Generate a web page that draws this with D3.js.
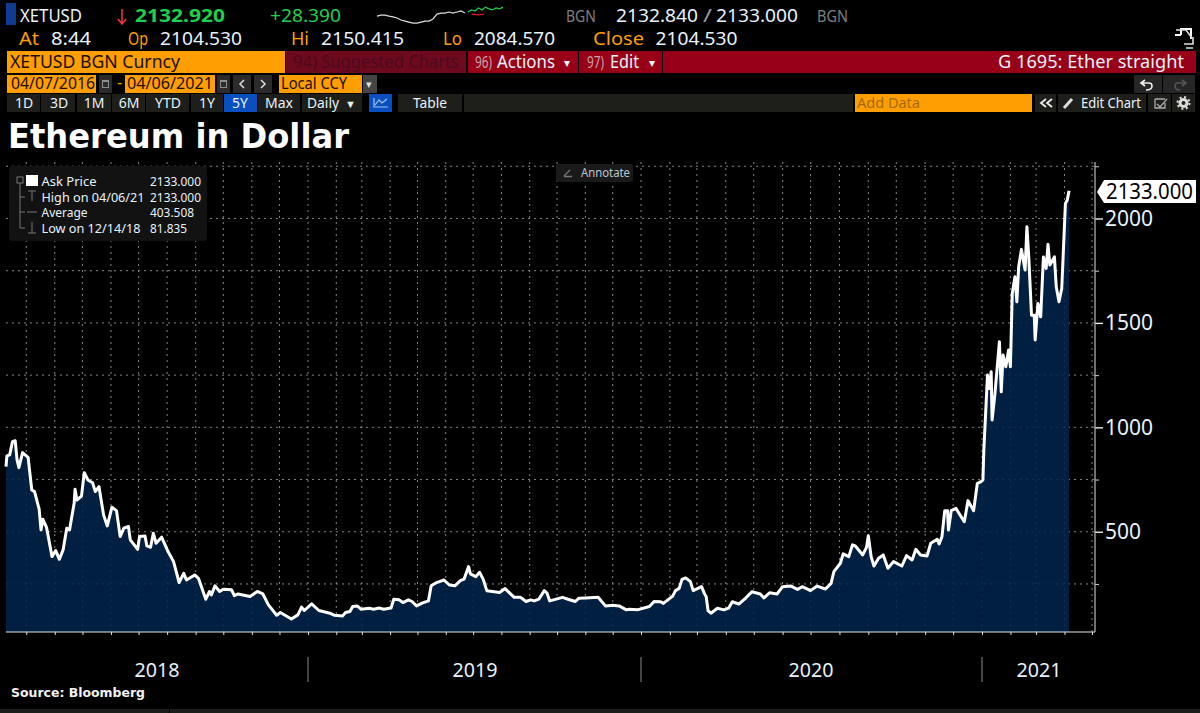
<!DOCTYPE html>
<html lang="en">
<head>
<meta charset="UTF-8">
<title>Ethereum in Dollar</title>
<script src="https://d3js.org/d3.v7.min.js"></script>
<style>
  html, body { margin: 0; background: #000; overflow: hidden; }
  text { font-family: "Noto Sans", sans-serif; }
</style>
</head>
<body>
<div id="chart"></div>
<script>
// values, month-day per year
const days2018 = [
  "02-07","02-08","02-11","02-14","02-17","02-19","02-21","02-25",
  "03-03","03-07","03-10","03-15","03-17","03-19","03-23","03-29",
  "04-02","04-06","04-10","04-14","04-17","04-22","04-23","04-25",
  "04-30","05-03","05-07","05-12","05-15","05-19","05-24","05-28",
  "06-02","06-07","06-11","06-15","06-20","06-22","06-30","07-02",
  "07-08","07-10","07-14","07-17","07-20","07-26","08-02","08-08",
  "08-14","08-19","08-22","08-31","09-04","09-12","09-16","09-18",
  "09-22","09-27","10-01","10-10","10-13","10-17","10-30","11-07",
  "11-13","11-19","11-28","12-02","12-14","12-21","12-25","12-28"];
const prices2018 = [
  812,863,868,931,936,844,807,879,
  856,700,692,608,509,560,521,381,
  410,368,413,517,509,636,703,652,
  671,783,748,735,692,716,580,528,
  617,601,477,517,525,461,416,477,
  480,432,426,493,445,474,405,357,
  257,301,269,293,277,177,214,198,
  241,214,225,222,194,202,190,214,
  202,150,100,113,82,102,139,123];
const days2019 = [
  "01-05","01-13","01-25","01-30","02-08","02-11","02-16","02-19",
  "02-24","02-28","03-09","03-14","03-20","03-25","04-02","04-05",
  "04-11","04-15","04-21","04-25","04-30","05-06","05-13","05-16",
  "05-22","05-25","05-30","06-05","06-11","06-17","06-21","06-26",
  "06-28","07-04","07-08","07-12","07-16","07-22","07-30","08-05",
  "08-15","08-22","08-28","09-02","09-06","09-11","09-17","09-20",
  "09-23","10-07","10-13","10-21","10-25","11-01","11-15","11-23",
  "12-01","12-08","12-16","12-19","12-28"];
const prices2019 = [
  155,123,110,100,97,113,118,142,
  145,129,134,129,135,129,135,177,
  174,161,174,166,145,158,169,241,
  257,261,269,245,241,266,273,333,
  298,285,306,273,218,214,209,228,
  186,186,166,174,169,177,218,206,
  169,186,177,166,182,183,186,145,
  148,145,126,129,126];
const days2020 = [
  "01-10","01-15","01-22","01-25","02-04","02-07","02-11","02-14",
  "02-18","02-23","02-26","03-06","03-09","03-11","03-13","03-16",
  "03-23","03-30","04-04","04-08","04-15","04-22","04-29","05-08",
  "05-12","05-18","05-26","06-01","06-10","06-17","06-22","07-01",
  "07-08","07-17","07-23","07-26","08-02","08-05","08-11","08-15",
  "08-18","08-26","08-30","09-01","09-04","09-07","09-12","09-17",
  "09-22","09-28","10-07","10-12","10-18","10-22","10-27","11-03",
  "11-07","11-14","11-16","11-19","11-22","11-25","11-26","11-29",
  "12-04","12-13","12-17","12-23","12-27","12-31"];
const prices2020 = [
  142,166,165,157,192,218,229,272,
  279,261,218,237,205,189,122,110,
  134,126,134,165,154,181,213,202,
  183,208,202,237,240,224,237,218,
  240,226,253,309,349,394,381,437,
  432,389,425,481,381,336,373,389,
  325,357,336,386,365,416,389,384,
  445,464,441,476,601,601,508,601,
  612,548,649,601,732,740];
const days2021 = [
  "01-02","01-03","01-07","01-09","01-11","01-12","01-15","01-17",
  "01-20","01-22","01-24","01-27","01-30","02-01","02-03","02-06",
  "02-08","02-10","02-13","02-17","02-19","02-21","02-24","02-27",
  "02-28","03-03","03-06","03-09","03-12","03-14","03-16","03-21",
  "03-23","03-26","03-29","04-02","04-04","04-06"];
const prices2021 = [
  748,891,1250,1186,1266,1035,1155,1258,
  1410,1170,1346,1290,1370,1290,1641,1721,
  1601,1769,1852,1753,1960,1817,1537,1537,
  1418,1593,1529,1816,1761,1877,1777,1816,
  1673,1601,1665,2072,2088,2133];

const majorTicks = [500, 1000, 1500, 2000];
const minorTicks = [250, 750, 1250, 1750, 2250];
const yearLabels = ["2018", "2019", "2020", "2021"];
const lastPrice = "2133.000";

// header sparkline, intraday prices
const sparkWhite = [2115,2119,2119,2115,2112,2108,2100,2096,2092,2088,2088,2092,
  2096,2096,2104,2123,2127,2127,2131,2127,2131,2135,2127];
const sparkGreen = [2131,2139,2135,2147,2139,2150,2143,2139,2147,2143,2150];
const sparkRed = [2123,2120,2123];

const legendRows = [
  ["Ask Price", "2133.000"],
  ["High on 04/06/21", "2133.000"],
  ["Average", "403.508"],
  ["Low on 12/14/18", "81.835"]];

const parse = d3.timeParse("%Y-%m-%d");
const withYear = (year, days, prices) =>
  days.map((d, i) => ({ date: parse(year + "-" + d), price: prices[i] }));
const series = [].concat(
  withYear(2018, days2018, prices2018),
  withYear(2019, days2019, prices2019),
  withYear(2020, days2020, prices2020),
  withYear(2021, days2021, prices2021));

const svg = d3.select("#chart").append("svg")
  .attr("width", 1200).attr("height", 713)
  .style("display", "block");

const ORANGE = "#ff9e00", RED = "#980018", DARKRED = "#6f0a1e", GREEN = "#1fd04a";
const TXT = "#e8f2fa", CELL = "#1e1e1b";

function label(x, y, str, size, color, width, opts) {
  const t = svg.append("text").attr("x", x).attr("y", y)
    .attr("font-size", size).attr("fill", color).text(str);
  if (width) t.attr("textLength", width).attr("lengthAdjust", "spacingAndGlyphs");
  if (opts && opts.bold) t.attr("font-weight", "bold");
  if (opts && opts.anchor) t.attr("text-anchor", opts.anchor);
  if (opts && opts.family) t.style("font-family", opts.family);
  return t;
}
function box(x0, y0, x1, y1, fill) {
  return svg.append("rect").attr("x", x0).attr("y", y0)
    .attr("width", x1 - x0).attr("height", y1 - y0).attr("fill", fill);
}

// --- chart ---
const x = d3.scaleTime()
  .domain([parse("2018-02-07"), parse("2019-01-01"), parse("2020-01-01"), parse("2021-01-01"), parse("2021-05-01")])
  .range([6, 308, 641, 982, 1092]);
const y = d3.scaleLinear().domain([20, 2280]).range([632, 160]);
const monthStarts = d3.timeMonth.range(parse("2018-03-01"), parse("2021-05-02"));

const gridV = svg.append("g");
gridV.selectAll("line").data(monthStarts).join("line")
  .attr("x1", d => x(d)).attr("x2", d => x(d))
  .attr("y1", 632).attr("y2", 162);
const gridH = svg.append("g");
gridH.selectAll("line").data(majorTicks.concat(minorTicks)).join("line")
  .attr("x1", 6).attr("x2", 1095)
  .attr("y1", d => y(d)).attr("y2", d => y(d));
svg.selectAll("g line").attr("stroke", "#858585").attr("stroke-width", 1).attr("stroke-dasharray", "2 4");

const area = d3.area().x(d => x(d.date)).y0(632).y1(d => y(d.price));
const line = d3.line().x(d => x(d.date)).y(d => y(d.price));
svg.append("path").datum(series).attr("d", area).attr("fill", "#00234a").attr("fill-opacity", 0.88);
svg.append("path").datum(series).attr("d", line).attr("fill", "none")
  .attr("stroke", "#fff").attr("stroke-width", 3).attr("stroke-linejoin", "round");

// axes
const xAxis = svg.append("g").attr("transform", "translate(0,632)")
  .call(d3.axisBottom(x).tickValues(monthStarts).tickSize(3).tickFormat("").tickSizeOuter(0));
xAxis.select(".domain").remove();
xAxis.selectAll("line").attr("stroke", "#ddd").attr("stroke-dasharray", null);
svg.append("line").attr("x1", 6).attr("x2", 1095).attr("y1", 632).attr("y2", 632)
  .attr("stroke", "#e6e6e6").attr("stroke-width", 1.2);

const yMinor = svg.append("g").attr("transform", "translate(1095,0)")
  .call(d3.axisRight(y).tickValues(minorTicks).tickSize(4).tickFormat(""));
yMinor.select(".domain").remove();
yMinor.selectAll("line").attr("stroke", "#ccc").attr("stroke-dasharray", null);
const yMajor = svg.append("g").attr("transform", "translate(1095,0)")
  .call(d3.axisRight(y).tickValues(majorTicks).tickSize(8).tickPadding(2).tickFormat(d3.format("d")));
yMajor.select(".domain").remove();
yMajor.selectAll("line").attr("stroke", "#eee").attr("stroke-dasharray", null).attr("stroke-width", 1.4);
yMajor.selectAll("text").attr("fill", TXT).attr("font-size", 21).attr("x", 10)
  .style("font-family", '"Noto Sans", sans-serif');
svg.append("line").attr("x1", 1095).attr("x2", 1095).attr("y1", 162).attr("y2", 632)
  .attr("stroke", "#bdbdbd").attr("stroke-width", 1.2);

// last price tag
svg.append("path").attr("fill", "#fff")
  .attr("d", "M1097,192 L1104,180 H1196 V203 H1104 Z");
label(1106, 199, lastPrice, 21, "#000", 87);

// years along the bottom
const yearCenters = [157, 475, 811, 1039];
yearLabels.forEach((yr, i) => label(yearCenters[i], 677, yr, 20, TXT, 45, { anchor: "middle" }));
[parse("2019-01-01"), parse("2020-01-01"), parse("2021-01-01")].forEach(d => {
  svg.append("line").attr("x1", x(d)).attr("x2", x(d)).attr("y1", 657).attr("y2", 682)
    .attr("stroke", "#8a8a8a");
});
label(11, 697, "Source: Bloomberg", 13, "#f2f2f2", 134, { bold: true, family: '"DejaVu Sans", sans-serif' });
box(0, 709, 1200, 713, "#1c1c1c");
box(169, 709, 170, 713, "#000");

// legend panel
box(9, 166, 207, 241, "#121212").attr("rx", 3);
box(26, 175, 38, 186, "#fff");
box(17, 177, 23, 183, "none").attr("stroke", "#777");
const treeLines = [[20, 183, 20, 228], [20, 197, 25, 197], [20, 212, 25, 212], [20, 228, 25, 228],
  [28, 191, 36, 191], [32, 191, 32, 201], [27, 212, 37, 212], [28, 233, 36, 233], [32, 222, 32, 233]];
treeLines.forEach(l => svg.append("line").attr("x1", l[0]).attr("y1", l[1]).attr("x2", l[2]).attr("y2", l[3])
  .attr("stroke", "#777"));
const legendY = [186, 202, 217, 233];
const legendW = [55, 103, 46, 99];
const legendValW = [51, 51, 44, 37];
legendRows.forEach((r, i) => {
  label(41.5, legendY[i], r[0], 12.5, TXT, legendW[i]);
  label(150, legendY[i], r[1], 12.5, TXT, legendValW[i]);
});

// annotate button
box(556, 164, 633, 182, "#1a1a1a").attr("rx", 2);
svg.append("path").attr("d", "M564,176 L570,170 M564,176.5 H572").attr("stroke", "#777").attr("stroke-width", 1.3);
label(581, 177, "Annotate", 12, "#b9c6d2", 49);

// --- header rows ---
box(6, 3, 16, 25, "#0f3c92");
label(20, 22, "XETUSD", 18, TXT, 62);
svg.append("path").attr("d", "M122,9 V23 M118,19 L122,24 L126,19").attr("fill", "none")
  .attr("stroke", "#f0303a").attr("stroke-width", 1.6);
label(135, 22, "2132.920", 18, GREEN, 90, { bold: true });
label(270, 22, "+28.390", 18, GREEN, 71);
label(566, 22, "BGN", 17, "#7f7f7f", 30);
label(616, 22, "2132.840", 18, TXT, 82);
label(703, 22, "/", 18, "#9a9a9a", 9);
label(716, 22, "2133.000", 18, TXT, 82);
label(817, 22, "BGN", 17, "#7f7f7f", 31);

const sparkY = d3.scaleLinear().domain([2084.57, 2150.415]).range([24, 7]);
const sparkLine = (data, x0, x1, color) => {
  const sx = d3.scaleLinear().domain([0, data.length - 1]).range([x0, x1]);
  svg.append("path").datum(data)
    .attr("d", d3.line().x((d, i) => sx(i)).y(d => sparkY(d)))
    .attr("fill", "none").attr("stroke", color).attr("stroke-width", 1.2);
};
sparkLine(sparkWhite, 377, 465, "#ddd");
sparkLine(sparkRed, 472, 484, "#e01b24");
sparkLine(sparkGreen, 468, 503, "#22d24a");

[["At", 19, 20, ORANGE], ["8:44", 51, 40, TXT], ["Op", 128, 20, ORANGE], ["2104.530", 160, 82, TXT],
 ["Hi", 291, 18, ORANGE], ["2150.415", 321, 83, TXT], ["Lo", 443, 19, ORANGE], ["2084.570", 474, 81, TXT],
 ["Close", 593, 51, ORANGE], ["2104.530", 655.5, 82, TXT]]
  .forEach(r => label(r[1], 45, r[0], 18, r[3], r[2]));

// expand icon, top right
svg.append("path").attr("d", "M1181,35 V29 H1191 V39 M1181,35 H1175").attr("fill", "none").attr("stroke", "#fff").attr("stroke-width", 2);
svg.append("path").attr("d", "M1176,30 H1186 L1192,38 M1184,44 H1193 V37 M1186,48 H1193").attr("fill", "none").attr("stroke", "#ddd").attr("stroke-width", 1.6);

// row 3
box(7, 51, 285, 73, ORANGE);
label(10, 68, "XETUSD BGN Curncy", 18, "#1a0d00", 170);
box(286, 51, 466, 73, DARKRED);
label(293, 68, "94) Suggested Charts", 18, "#4a0a1e", 166);
box(468, 51, 578, 73, RED);
label(475, 68, "96)", 16, "#c9a3a8", 17);
label(497, 68, "Actions", 18, TXT, 58);
label(564, 67, "▾", 12, TXT);
box(579, 51, 662, 73, RED);
label(587, 68, "97)", 16, "#c9a3a8", 17);
label(610, 68, "Edit", 18, TXT, 29);
label(649, 67, "▾", 12, TXT);
box(663, 51, 1196, 73, RED);
label(998, 68, "G 1695: Ether straight", 18, TXT, 186);

// row 4
const cal = x0 => {
  box(x0, 75, x0 + 13, 93, "#2b2b2b");
  box(x0 + 3, 80, x0 + 10, 88, "#8d8d8d");
  box(x0 + 4, 82, x0 + 9, 87, "#2b2b2b");
};
box(7, 75, 96, 93, ORANGE);
label(11, 89, "04/07/2016", 16, "#1a0d00", 84);
cal(99);
label(117, 88, "-", 16, ORANGE);
box(125, 75, 215, 93, ORANGE);
label(127, 89, "04/06/2021", 16, "#1a0d00", 86);
cal(217);
box(233, 75, 251, 93, "#2b2b2b");
box(254, 75, 272, 93, "#2b2b2b");
svg.append("path").attr("d", "M244,80 L240,84 L244,88 M261,80 L265,84 L261,88").attr("fill", "none").attr("stroke", "#ddd").attr("stroke-width", 1.5);
box(279, 75, 362, 93, ORANGE);
label(281, 89, "Local CCY", 16, "#1a0d00", 66);
box(363, 75, 377, 93, "#444");
label(366, 88, "▾", 11, "#ddd");
box(1134, 75, 1162, 93, "#262626");
box(1163, 75, 1195, 93, "#262626");
svg.append("path").attr("d", "M1145,80 L1141,83 L1145,86 M1141,83 H1149 Q1152,83 1152,86 Q1152,90 1146,90").attr("fill", "none").attr("stroke", "#eee").attr("stroke-width", 1.6);
svg.append("path").attr("d", "M1182,80 L1186,83 L1182,86 M1186,83 H1178 Q1175,83 1175,86 Q1175,90 1180,90").attr("fill", "none").attr("stroke", "#555").attr("stroke-width", 1.6);

// row 5
[["1D", 7, 40, 24], ["3D", 41, 75, 59], ["1M", 77, 111, 94], ["6M", 112, 145, 129], ["YTD", 146, 189, 168],
 ["1Y", 191, 223, 207], ["5Y", 224, 257, 240], ["Max", 258, 300, 279]].forEach(c => {
  box(c[1], 94, c[2], 112, c[0] === "5Y" ? "#0a4fc0" : CELL);
  label(c[3], 108, c[0], 14, TXT, null, { anchor: "middle" });
});
box(302, 94, 362, 112, CELL);
label(307, 108, "Daily", 14, TXT, 32);
label(345, 108, "▼", 11, TXT);
box(369, 94, 392, 112, "#0a4fc0");
svg.append("path").attr("d", "M374,98 V107 H388 M375,105 L379,100 L382,103 L387,99").attr("fill", "none").attr("stroke", "#9fc4f5").attr("stroke-width", 1.2);
box(398, 94, 462, 112, CELL);
label(413, 108, "Table", 14, TXT, 34);
box(464, 94, 853, 112, CELL);
box(855, 94, 1032, 112, ORANGE);
label(857, 108, "Add Data", 14, "#a46a06", 63);
box(1035, 94, 1056, 112, CELL);
svg.append("path").attr("d", "M1046,99 L1041,103 L1046,107 M1052,99 L1047,103 L1052,107").attr("fill", "none").attr("stroke", "#eee").attr("stroke-width", 1.8);
box(1058, 94, 1146, 112, CELL);
svg.append("path").attr("d", "M1064,108 L1072,99").attr("stroke", "#ddd").attr("stroke-width", 3);
label(1081, 108, "Edit Chart", 14, TXT, 60);
box(1148, 94, 1171, 112, CELL);
svg.append("path").attr("d", "M1155,99 H1165 M1155,99 V108 H1165 V103 M1157,104 L1160,107 L1167,99").attr("fill", "none").attr("stroke", "#aaa").attr("stroke-width", 1.3);
box(1172, 94, 1195, 112, CELL);
svg.append("circle").attr("cx", 1183.5).attr("cy", 103).attr("r", 3.5).attr("fill", "none").attr("stroke", "#ddd").attr("stroke-width", 3);
svg.append("circle").attr("cx", 1183.5).attr("cy", 103).attr("r", 6).attr("fill", "none").attr("stroke", "#ddd").attr("stroke-width", 2).attr("stroke-dasharray", "2 2.7");

// title
label(8, 148, "Ethereum in Dollar", 34, "#fff", 341, { bold: true, family: '"DejaVu Sans", sans-serif' });
</script>
</body>
</html>
